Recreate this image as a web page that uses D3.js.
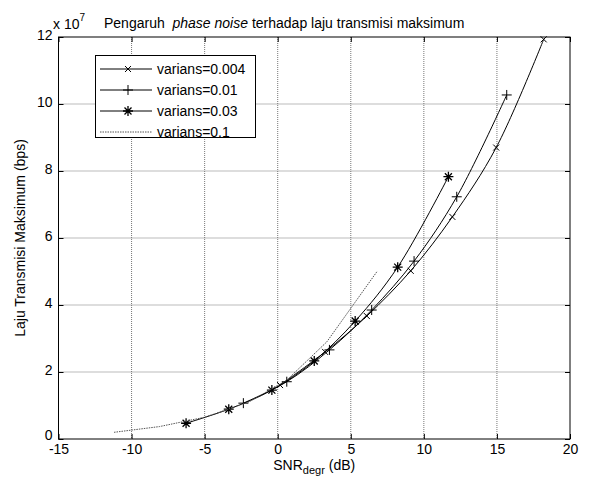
<!DOCTYPE html>
<html><head><meta charset="utf-8">
<script src="https://cdn.jsdelivr.net/npm/d3@7"></script>
<style>body{margin:0;background:#fff}svg{display:block}text{font-family:"Liberation Sans",Arial,sans-serif;fill:#000}</style>
</head><body>
<svg id="c" width="589" height="483"></svg>
<script>
const xTicks=[-15,-10,-5,0,5,10,15,20];
const yTicks=[0,2,4,6,8,10,12];
const seriesNames=["varians=0.004","varians=0.01","varians=0.03","varians=0.1"];
const s004x=[0.16,3.24,6.1,9.1,11.95,14.95,18.2];
const s004y=[1.61,2.6,3.67,5.02,6.63,8.7,11.93];
const s01x=[-2.35,0.62,3.54,6.43,9.33,12.25,15.67];
const s01y=[1.07,1.71,2.66,3.85,5.31,7.23,10.27];
const s03x=[-6.27,-3.35,-0.4,2.5,5.3,8.21,11.68];
const s03y=[0.47,0.89,1.46,2.33,3.52,5.13,7.83];
const s1x=[-11.2,-8.1,-5.0,-2.0,0.6,3.36,6.78];
const s1y=[0.2,0.37,0.65,1.1,1.75,2.9,4.99];

const svg=d3.select("#c");
const L=58.5,R=570,T=37,B=439;
const x=d3.scaleLinear().domain([-15,20]).range([L,R]);
const y=d3.scaleLinear().domain([0,12]).range([B,T]);

// grid
const g=svg.append("g");
g.selectAll(".vx").data(xTicks.slice(1,-1)).enter().append("line")
 .attr("x1",d=>x(d)).attr("x2",d=>x(d)).attr("y1",T).attr("y2",B)
 .attr("stroke","#777").attr("stroke-width",1).attr("stroke-dasharray","1,1");
g.selectAll(".hy").data(yTicks.slice(1,-1)).enter().append("line")
 .attr("y1",d=>y(d)).attr("y2",d=>y(d)).attr("x1",L).attr("x2",R)
 .attr("stroke","#777").attr("stroke-width",1).attr("stroke-dasharray","1,1");

// axes
const fmt=d=>String(d);
const ax=svg.append("g").attr("transform",`translate(0,${B})`)
 .call(d3.axisBottom(x).tickValues(xTicks).tickSize(-5).tickPadding(5).tickFormat(fmt));
const axT=svg.append("g").attr("transform",`translate(0,${T})`)
 .call(d3.axisTop(x).tickValues(xTicks).tickSize(-5).tickFormat(""));
const ay=svg.append("g").attr("transform",`translate(${L},0)`)
 .call(d3.axisLeft(y).tickValues(yTicks).tickSize(-5).tickPadding(6).tickFormat(fmt));
const ayR=svg.append("g").attr("transform",`translate(${R},0)`)
 .call(d3.axisRight(y).tickValues(yTicks).tickSize(-5).tickFormat(""));
[ax,axT,ay,ayR].forEach(a=>{
 a.select(".domain").remove();
 a.selectAll("line").attr("stroke","#000");
 a.selectAll("text").style("font-size","14px").style("font-family","Liberation Sans, Arial, sans-serif");
});
ay.selectAll("text").attr("dy",d=>d===0?"0.0em":"0.2em");
svg.append("rect").attr("x",L).attr("y",T).attr("width",R-L).attr("height",B-T)
 .attr("fill","none").attr("stroke","#000").attr("stroke-width",1);

// series
const mk={
 x:(s,cx,cy)=>{const r=3;s.append("path").attr("d",`M${cx-r},${cy-r}L${cx+r},${cy+r}M${cx-r},${cy+r}L${cx+r},${cy-r}`).attr("stroke","#000").attr("fill","none");},
 plus:(s,cx,cy)=>{const r=5;s.append("path").attr("d",`M${cx-r},${cy}L${cx+r},${cy}M${cx},${cy-r}L${cx},${cy+r}`).attr("stroke","#000").attr("fill","none");},
 star:(s,cx,cy)=>{const r=5,q=3.5;s.append("path").attr("d",`M${cx-r},${cy}L${cx+r},${cy}M${cx},${cy-r}L${cx},${cy+r}M${cx-q},${cy-q}L${cx+q},${cy+q}M${cx-q},${cy+q}L${cx+q},${cy-q}`).attr("stroke","#000").attr("stroke-width",1.3).attr("fill","none");}
};
const series=[
 {xs:s004x,ys:s004y,m:"x",dash:null,col:"#000",curve:d3.curveCatmullRom},
 {xs:s01x,ys:s01y,m:"plus",dash:null,col:"#000",curve:d3.curveCatmullRom},
 {xs:s03x,ys:s03y,m:"star",dash:null,col:"#000",curve:d3.curveCatmullRom},
 {xs:s1x,ys:s1y,m:null,dash:"1.5,1",col:"#555",curve:d3.curveLinear}
];
const lineG=svg.append("g");
series.forEach(s=>{
 const pts=s.xs.map((v,i)=>[v,s.ys[i]]);
 const ln=d3.line().x(d=>x(d[0])).y(d=>y(d[1])).curve(s.curve);
 lineG.append("path").attr("d",ln(pts)).attr("fill","none").attr("stroke",s.col)
  .attr("stroke-width",1).attr("stroke-dasharray",s.dash);
 if(s.m) pts.forEach(p=>mk[s.m](lineG,x(p[0]),y(p[1])));
});

// legend
const lg=svg.append("g");
lg.append("rect").attr("x",95.5).attr("y",55.5).attr("width",160).attr("height",82)
 .attr("fill","#fff").attr("stroke","#000");
const ly=[69,90,111,132];
series.forEach((s,i)=>{
 lg.append("line").attr("x1",100).attr("x2",152).attr("y1",ly[i]).attr("y2",ly[i])
  .attr("stroke",s.col).attr("stroke-dasharray",s.dash);
 if(s.m) mk[s.m](lg,128,ly[i]);
 lg.append("text").attr("x",157).attr("y",ly[i]+5).style("font-size","14px").text(seriesNames[i]);
});

// titles
const tt=svg.append("text").attr("x",104).attr("y",28).style("font-size","14px").attr("xml:space","preserve");
tt.append("tspan").text("Pengaruh\u00a0 ");
tt.append("tspan").style("font-style","italic").text("phase noise");
tt.append("tspan").text(" terhadap laju transmisi maksimum");
const ex=svg.append("text").attr("x",53).attr("y",29).style("font-size","14px");
ex.append("tspan").text("x 10");
ex.append("tspan").attr("dy",-8).style("font-size","10px").text("7");

const xl=svg.append("text").attr("x",(L+R)/2).attr("y",470).attr("text-anchor","middle").style("font-size","14px");
xl.append("tspan").text("SNR");
xl.append("tspan").attr("dy",4).style("font-size","11px").text("degr");
xl.append("tspan").attr("dy",-4).text(" (dB)");
svg.append("text").attr("transform",`translate(25,${(T+B)/2}) rotate(-90)`).attr("text-anchor","middle")
 .style("font-size","14px").text("Laju Transmisi Maksimum (bps)");
</script>
</body></html>
